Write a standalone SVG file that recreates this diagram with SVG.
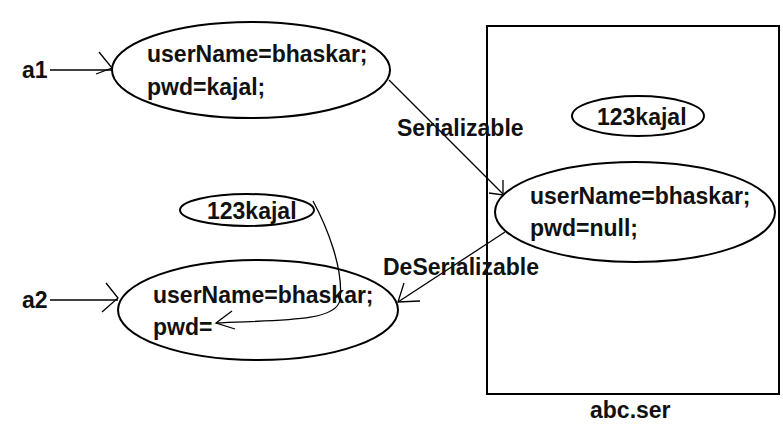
<svg xmlns="http://www.w3.org/2000/svg" width="783" height="427" viewBox="0 0 783 427">
<style>
text{font-family:"Liberation Sans",Arial,sans-serif;font-weight:bold;font-size:23px;fill:#111}
.sh{fill:none;stroke:#000;stroke-width:2}
.ln{fill:none;stroke:#000;stroke-width:1.3}
.ar{fill:none;stroke:#000;stroke-width:1.3}
</style>
<rect width="783" height="427" fill="#fff"/>
<g id="file">
<rect x="487" y="26" width="292" height="368" class="sh"/>
<text x="590" y="418">abc.ser</text>
</g>
<g id="obj1">
<ellipse cx="251" cy="70" rx="139" ry="48" class="sh"/>
<text x="147" y="62">userName=bhaskar;</text>
<text x="147" y="95">pwd=kajal;</text>
</g>
<g id="pwd-stored">
<ellipse cx="638" cy="116" rx="66" ry="20" class="sh"/>
<text x="597" y="125">123kajal</text>
</g>
<g id="obj-ser">
<ellipse cx="635" cy="212" rx="140" ry="50" class="sh"/>
<text x="530" y="204">userName=bhaskar;</text>
<text x="530" y="236">pwd=null;</text>
</g>
<g id="pwd-left">
<ellipse cx="247" cy="210" rx="67" ry="16" class="sh"/>
<text x="207" y="219">123kajal</text>
</g>
<g id="obj2">
<ellipse cx="258" cy="310" rx="140" ry="50" class="sh"/>
<text x="153" y="303">userName=bhaskar;</text>
<text x="153" y="335">pwd=</text>
</g>
<g id="ref-a1"><text x="22" y="78">a1</text></g>
<g id="ref-a2"><text x="22" y="308">a2</text></g>
<g id="connectors">
<path d="M50,70 H112" class="ln"/>
<path d="M99,52 L112,68 L96,74" class="ar"/>
<path d="M50,300 H118" class="ln"/>
<path d="M106,283 L118,298 L102,312" class="ar"/>
<path d="M389,80 L503,194" class="ln"/>
<path d="M503,180 L503,195 L489,193" class="ar"/>
<path d="M505,232 L398,302" class="ln"/>
<path d="M404,283 L398,302 L420,301" class="ar"/>
<path d="M313,201 C326,225 344,268 340,300 C336,322 280,320 216,323" class="ln"/>
<path d="M232,311 L216,323 L235,329" class="ar"/>
<text x="397" y="136">Serializable</text>
<text x="383" y="275">DeSerializable</text>
</g>
</svg>
